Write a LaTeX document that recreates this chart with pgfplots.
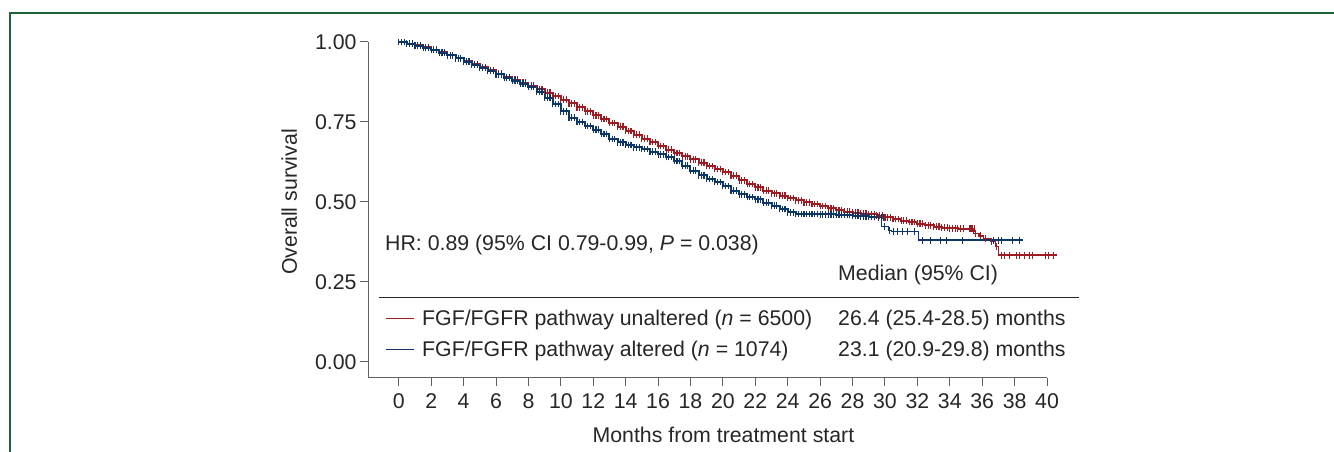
\documentclass[border=0pt]{standalone}
\usepackage{fontspec}
\setmainfont{Liberation Sans}
\usepackage{pgfplots}
\pgfplotsset{compat=1.18}
\definecolor{cred}{RGB}{158,27,34}
\definecolor{cblue}{RGB}{12,54,104}
\definecolor{cframe}{RGB}{28,99,58}
\definecolor{ctext}{RGB}{38,38,38}
\newcommand\fs{\fontsize{21.3bp}{25bp}\selectfont}
% a group of censoring ticks covering one half-month step (0.5 month = 8.1bp)
\pgfdeclareplotmark{cens}{%
  \pgfpathmoveto{\pgfpoint{0bp}{-3.3bp}}\pgfpathlineto{\pgfpoint{0bp}{3.3bp}}%
  \pgfpathmoveto{\pgfpoint{2.7bp}{-3.3bp}}\pgfpathlineto{\pgfpoint{2.7bp}{3.3bp}}%
  \pgfpathmoveto{\pgfpoint{5.4bp}{-3.3bp}}\pgfpathlineto{\pgfpoint{5.4bp}{3.3bp}}%
  \pgfusepathqstroke}
\begin{document}
\begin{tikzpicture}[font=\fs, every node/.append style={text=ctext}]
\useasboundingbox (0,0) rectangle (1334bp,452bp);
\draw[cframe, line width=2bp] (9.7bp,0bp) -- (9.7bp,438.7bp) -- (1334bp,438.7bp);
\begin{axis}[
 at={(368bp,74bp)}, anchor=south west,
 scale only axis, width=679bp, height=336bp,
 xmin=-1.9, xmax=40, ymin=-0.05, ymax=1,
 axis x line=bottom, axis y line=left,
 axis line style={-, draw=black!62, line width=1bp},
 tick style={draw=black!62, line width=1bp},
 tick align=outside, major tick length=8bp,
 xtick={0,2,...,40}, ytick={0,0.25,0.5,0.75,1},
 yticklabels={0.00,0.25,0.50,0.75,1.00},
 xticklabel style={yshift=-4bp},
 ticklabel style={font=\fs, text=ctext},
 /pgf/number format/assume math mode=true,
 clip=false,
 xlabel={Months from treatment start}, ylabel={Overall survival},
 xlabel style={at={(axis description cs:0.5234,-0.1905)}, anchor=base, font=\fs, text=ctext},
 ylabel style={at={(axis description cs:-0.1046,0.5238)}, anchor=base, font=\fs, text=ctext},
]
% FGF/FGFR pathway unaltered (red), dense censoring region
\addplot[const plot, cred, line width=2bp, mark=cens, mark options={line width=1.15bp}] coordinates {
(0,1.000)(0.5,0.995)(1,0.990)(1.5,0.983)(2,0.976)(2.5,0.968)(3,0.958)(3.5,0.950)(4,0.941)(4.5,0.931)(5,0.921)(5.5,0.911)(6,0.901)(6.5,0.891)(7,0.882)(7.5,0.873)(8,0.864)(8.5,0.853)(9,0.842)(9.5,0.831)(10,0.820)(10.5,0.808)(11,0.796)(11.5,0.783)(12,0.771)(12.5,0.759)(13,0.747)(13.5,0.735)(14,0.722)(14.5,0.710)(15,0.698)(15.5,0.687)(16,0.675)(16.5,0.664)(17,0.653)(17.5,0.643)(18,0.633)(18.5,0.623)(19,0.613)(19.5,0.603)(20,0.594)(20.5,0.582)(21,0.568)(21.5,0.556)(22,0.546)(22.5,0.535)(23,0.527)(23.5,0.520)(24,0.512)(24.5,0.505)(25,0.499)(25.5,0.494)(26,0.488)(26.5,0.481)(27,0.474)(27.5,0.470)(28,0.467)(28.5,0.464)(29,0.462)(29.5,0.457)(30,0.452)(30.5,0.447)(31,0.442)(31.5,0.437)(32,0.432)(32.5,0.427)(33,0.423)(33.5,0.420)(34,0.418)(34.5,0.417)(35.2,0.417)
};
\addplot[const plot, cred, line width=1.3bp] coordinates {
(35.2,0.417)(35.45,0.402)(35.8,0.394)(36.1,0.386)(36.5,0.376)(36.8,0.360)(37.0,0.334)(40.6,0.334)
};
\addplot[only marks, mark=|, mark size=3.5bp, cred, mark options={line width=1bp}] coordinates {
(35.3,0.417)(35.6,0.402)(35.9,0.394)(36.2,0.386)(36.6,0.376)(36.9,0.360)(37.2,0.334)(37.4,0.334)(37.7,0.334)(38.1,0.334)(38.3,0.334)(38.6,0.334)(38.9,0.334)(39.1,0.334)(39.9,0.334)(40.1,0.334)(40.4,0.334)
};
% FGF/FGFR pathway altered (blue)
\addplot[const plot, cblue, line width=2bp, mark=cens, mark options={line width=1.15bp}] coordinates {
(0,1.000)(0.5,0.995)(1,0.989)(1.5,0.982)(2,0.975)(2.5,0.967)(3,0.958)(3.5,0.949)(4,0.939)(4.5,0.929)(5,0.919)(5.5,0.909)(6,0.899)(6.5,0.889)(7,0.879)(7.5,0.870)(8,0.860)(8.5,0.845)(9,0.826)(9.5,0.806)(10,0.783)(10.5,0.764)(11,0.750)(11.5,0.738)(12,0.726)(12.5,0.712)(13,0.697)(13.5,0.686)(14,0.678)(14.5,0.671)(15,0.665)(15.5,0.657)(16,0.649)(16.5,0.640)(17,0.628)(17.5,0.614)(18,0.598)(18.5,0.583)(19,0.572)(19.5,0.562)(20,0.550)(20.5,0.535)(21,0.524)(21.5,0.515)(22,0.508)(22.5,0.498)(23,0.489)(23.5,0.478)(24,0.468)(24.5,0.463)(25,0.462)(25.5,0.462)(26,0.461)(26.5,0.461)(27,0.460)(27.5,0.459)(28,0.457)(28.5,0.455)(29,0.453)(29.6,0.451)
};
\addplot[const plot, cblue, line width=1.3bp] coordinates {
(29.6,0.451)(29.8,0.423)(30.2,0.412)(30.4,0.407)(32.05,0.381)(38.5,0.381)
};
\addplot[only marks, mark=|, mark size=3.5bp, cblue, mark options={line width=1bp}] coordinates {
(29.95,0.423)(30.25,0.412)(30.5,0.407)(30.8,0.407)(31.1,0.407)(31.4,0.407)(31.85,0.407)(32.3,0.381)(32.8,0.381)(33.4,0.381)(33.8,0.381)(34.8,0.381)(36.7,0.381)(37.0,0.381)(37.2,0.381)(37.9,0.381)(38.33,0.381)
};
\end{axis}
\node[anchor=base west, inner sep=0pt] at (385bp,201bp) {HR: 0.89 (95\% CI 0.79-0.99, \textit{P} = 0.038)};
\node[anchor=base west, inner sep=0pt] at (838bp,171bp) {Median (95\% CI)};
\draw[black!85, line width=1.2bp] (379bp,154.3bp) -- (1079bp,154.3bp);
\draw[cred, line width=1bp] (386bp,133bp) -- (414bp,133bp);
\node[anchor=base west, inner sep=0pt] at (422bp,126bp) {FGF/FGFR pathway unaltered (\textit{n} = 6500)};
\node[anchor=base west, inner sep=0pt] at (838bp,126bp) {26.4 (25.4-28.5) months};
\draw[cblue, line width=1bp] (386bp,102bp) -- (414bp,102bp);
\node[anchor=base west, inner sep=0pt] at (422bp,95bp) {FGF/FGFR pathway altered (\textit{n} = 1074)};
\node[anchor=base west, inner sep=0pt] at (838bp,95bp) {23.1 (20.9-29.8) months};
\end{tikzpicture}
\end{document}
